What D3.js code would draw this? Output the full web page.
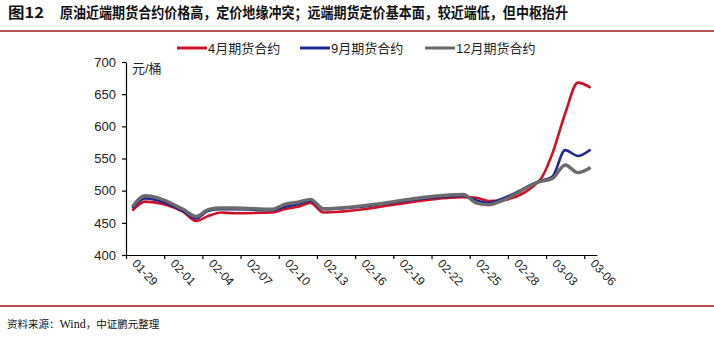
<!DOCTYPE html>
<html><head><meta charset="utf-8">
<script src="https://cdn.jsdelivr.net/npm/d3@7/dist/d3.min.js"></script>
<style>body{margin:0;background:#fff}svg{display:block}</style>
</head><body>
<svg id="c" width="714" height="339"></svg>
<script>
const dates = ["2026-01-29","2026-01-30","2026-02-02","2026-02-03","2026-02-04","2026-02-05","2026-02-06","2026-02-09","2026-02-10","2026-02-11","2026-02-12","2026-02-13","2026-02-24","2026-02-25","2026-02-26","2026-02-27","2026-03-02","2026-03-03","2026-03-04","2026-03-05","2026-03-06"];
const apr = [469,483,467,453,461,466,465,466,471.5,475,481,466,490,489,484,485,516,558,620,668,660];
const sep = [473,488,468,457,469,471,471,469.5,475,479,484.5,471,492,485,481,487,515,522,563,554,564];
const dec = [475,492,471,460,471,473,473,471,479,482,486.5,472,494,481,478,484,514,519,540,528,536];
const seriesNames = ["4月期货合约","9月期货合约","12月期货合约"];
const yTicks = [400,450,500,550,600,650,700];
const xTickLabels = ["01-29","02-01","02-04","02-07","02-10","02-13","02-16","02-19","02-22","02-25","02-28","03-03","03-06"];

const colors = ["#cf1126","#1f2b8c","#6b6b6b"];
const widths = [2.6,2.6,3.4];
const svg = d3.select("#c");
const parse = d3.utcParse("%Y-%m-%d");
const fmt = d3.utcFormat("%m-%d");
const t0 = parse("2026-01-29"), t1 = parse("2026-03-07");
const x = d3.scaleUtc().domain([t0,t1]).range([126,597]);
const y = d3.scaleLinear().domain([400,700]).range([255,62]);
const font = "'Liberation Sans','Noto Sans CJK SC',Arial,sans-serif";
const cjk = "'Noto Sans CJK SC',sans-serif";

// title
svg.append("text").attr("x",8).attr("y",18).attr("font-family",cjk)
  .attr("font-weight","bold").attr("font-size",14.5).attr("fill","#111").attr("textLength",36).attr("lengthAdjust","spacingAndGlyphs").text("图12");
svg.append("text").attr("x",60).attr("y",18).attr("font-family",cjk)
  .attr("font-weight","bold").attr("font-size",14.5).attr("fill","#111").attr("textLength",508).attr("lengthAdjust","spacingAndGlyphs")
  .text("原油近端期货合约价格高，定价地缘冲突；远端期货定价基本面，较近端低，但中枢抬升");
svg.append("line").attr("x1",0).attr("x2",714).attr("y1",31).attr("y2",31).attr("stroke","#9b1b1f").attr("stroke-width",1.5);
svg.append("line").attr("x1",0).attr("x2",714).attr("y1",306).attr("y2",306).attr("stroke","#9b1b1f").attr("stroke-width",1.5);

// source
const src = svg.append("text").attr("x",7).attr("y",328).attr("font-size",10.5).attr("fill","#111").attr("font-family",cjk);
src.append("tspan").text("资料来源：");
src.append("tspan").attr("font-family","'Liberation Serif',serif").attr("font-size",12).text("Wind");
src.append("tspan").text("，中证鹏元整理");

// axes
const yAxis = svg.append("g").attr("transform","translate(126,0)")
  .call(d3.axisLeft(y).tickValues(yTicks).tickSize(4).tickSizeOuter(0).tickPadding(6));
const xAxis = svg.append("g").attr("transform","translate(0,255)")
  .call(d3.axisBottom(x).tickValues(xTickLabels.map(s=>parse("2026-"+s))).tickFormat(fmt).tickSize(4).tickSizeOuter(0));
[yAxis,xAxis].forEach(g=>{
  g.select(".domain").attr("stroke","#000").attr("stroke-width",1.2);
  g.selectAll(".tick line").attr("stroke","#000").attr("stroke-width",1.2);
  g.selectAll("text").attr("font-family",font).attr("font-size",13).attr("fill","#222");
});
xAxis.selectAll("text").attr("font-size",12).attr("text-anchor","start").attr("dy",0).attr("y",0)
  .attr("transform","translate(5,9) rotate(47)");
svg.append("text").attr("x",132).attr("y",73).attr("font-family",font).attr("font-size",13).attr("fill","#222").text("元/桶");

// lines
const all = [apr,sep,dec];
const line = d3.line().x(d=>x(d3.utcHour.offset(parse(d[0]),12))).y(d=>y(d[1])).curve(d3.curveMonotoneX);
all.forEach((vals,i)=>{
  svg.append("path").datum(dates.map((d,j)=>[d,vals[j]])).attr("d",line)
    .attr("fill","none").attr("stroke",colors[i]).attr("stroke-width",widths[i]).attr("stroke-linejoin","round");
});

// legend
const legX = [177,300,425];
seriesNames.forEach((n,i)=>{
  svg.append("line").attr("x1",legX[i]).attr("x2",legX[i]+30).attr("y1",48).attr("y2",48)
    .attr("stroke",colors[i]).attr("stroke-width",3);
  svg.append("text").attr("x",legX[i]+31).attr("y",53).attr("font-family",font).attr("font-size",13).attr("fill","#222").text(n);
});
</script>
</body></html>
